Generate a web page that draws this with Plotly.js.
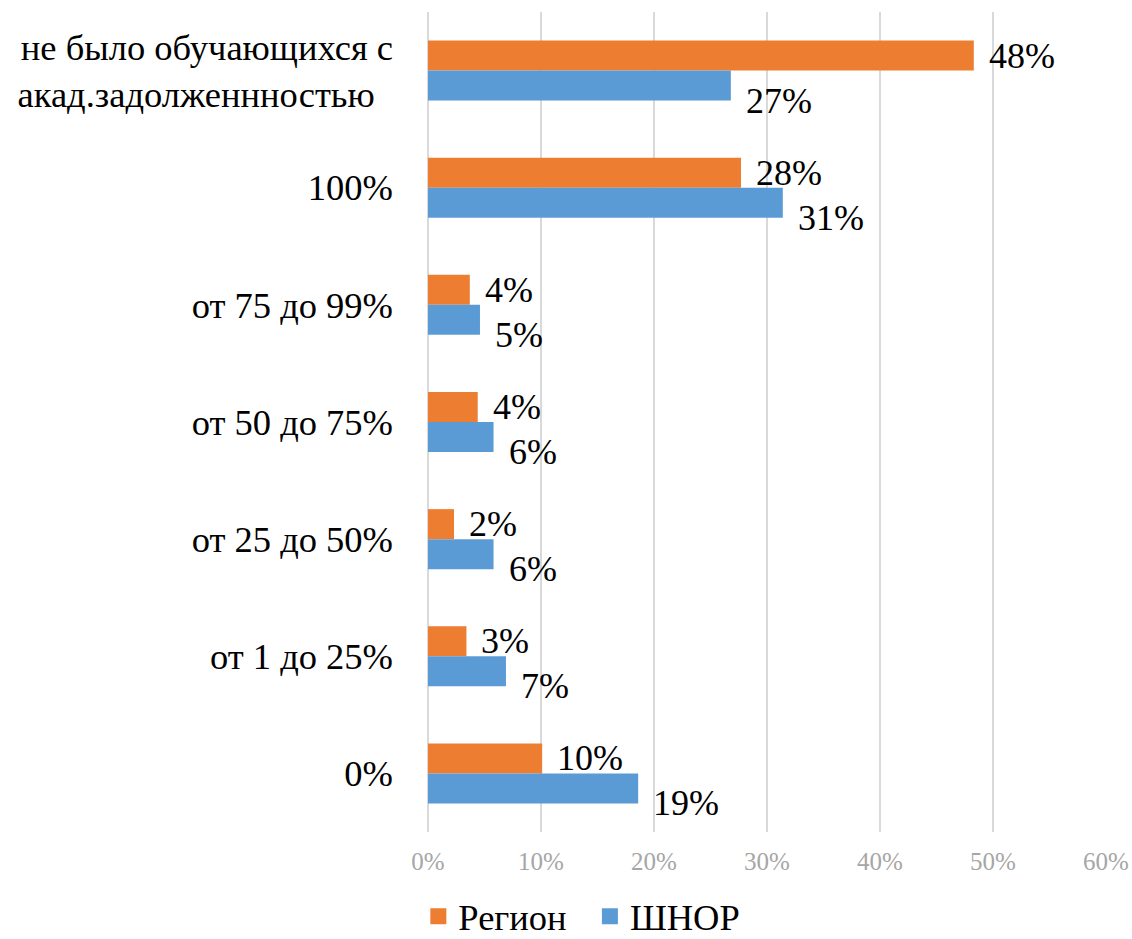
<!DOCTYPE html>
<html>
<head>
<meta charset="utf-8">
<script src="https://cdn.plot.ly/plotly-3.0.1.min.js"></script>
<style>html,body{margin:0;padding:0;background:#fff;}#chart{width:1132px;height:939px;}</style>
</head>
<body>
<div id="chart"></div>
<script>
var categories = [
  "не было обучающихся с<br>акад.задолженнностью\u00A0\u00A0",
  "100%",
  "от 75 до 99%",
  "от 50 до 75%",
  "от 25 до 50%",
  "от 1 до 25%",
  "0%"
];
var seriesNames = ["Регион", "ШНОР"];
var regionValues = [48.3, 27.7, 3.7, 4.4, 2.3, 3.4, 10.1];
var shnorValues  = [26.8, 31.4, 4.6, 5.8, 5.8, 6.9, 18.6];
var xTicks = [0, 10, 20, 30, 40, 50, 60];

var colors = ["#ED7D31", "#5B9BD5"];
var serif = "'Liberation Serif', 'Times New Roman', serif";

var traces = [
  {type: "bar", orientation: "h", name: seriesNames[0], x: regionValues, y: categories,
   marker: {color: colors[0]}, showlegend: false, hoverinfo: "x+y"},
  {type: "bar", orientation: "h", name: seriesNames[1], x: shnorValues, y: categories,
   marker: {color: colors[1]}, showlegend: false, hoverinfo: "x+y"},
  {type: "scatter", mode: "markers", name: seriesNames[0] + "\u00A0\u00A0", x: [null], y: [null],
   marker: {symbol: "square", size: 18, color: colors[0]}, showlegend: true},
  {type: "scatter", mode: "markers", name: seriesNames[1], x: [null], y: [null],
   marker: {symbol: "square", size: 18, color: colors[1]}, showlegend: true}
];

var annotations = [];
categories.forEach(function (c, i) {
  annotations.push({x: regionValues[i], y: c, xref: "x", yref: "y",
    text: Math.round(regionValues[i]) + "%", showarrow: false,
    xanchor: "left", yanchor: "middle", xshift: 13, yshift: 15,
    font: {family: serif, size: 36, color: "#000"}});
  annotations.push({x: shnorValues[i], y: c, xref: "x", yref: "y",
    text: Math.round(shnorValues[i]) + "%", showarrow: false,
    xanchor: "left", yanchor: "middle", xshift: 13, yshift: -30,
    font: {family: serif, size: 36, color: "#000"}});
});

var layout = {
  width: 1132, height: 939,
  margin: {l: 428, r: 26, t: 12, b: 107, pad: 0},
  paper_bgcolor: "#fff", plot_bgcolor: "#fff",
  barmode: "group", bargap: 0.488, bargroupgap: 0,
  font: {family: serif},
  xaxis: {
    range: [0, 60], tickvals: xTicks, ticktext: xTicks.map(function (v) { return v + "%"; }),
    showgrid: true, gridcolor: "#D9D9D9", gridwidth: 1.5,
    zeroline: true, zerolinecolor: "#D9D9D9", zerolinewidth: 1.5,
    showline: false, ticks: "", ticklabelstandoff: 12,
    tickfont: {family: serif, size: 25, color: "#A6A6A6"}, fixedrange: true
  },
  yaxis: {
    type: "category", autorange: "reversed", showgrid: false, zeroline: false,
    showline: false, ticks: "", ticklabelstandoff: 34,
    tickfont: {family: serif, size: 36.5, color: "#000"}, fixedrange: true
  },
  showlegend: true,
  legend: {
    orientation: "h", xref: "container", yref: "container",
    x: 0.514, xanchor: "center", y: 0.024, yanchor: "middle",
    font: {family: serif, size: 36.5, color: "#000"}, itemwidth: 30
  },
  annotations: annotations
};

Plotly.newPlot("chart", traces, layout, {displayModeBar: false, staticPlot: true});
</script>
</body>
</html>
